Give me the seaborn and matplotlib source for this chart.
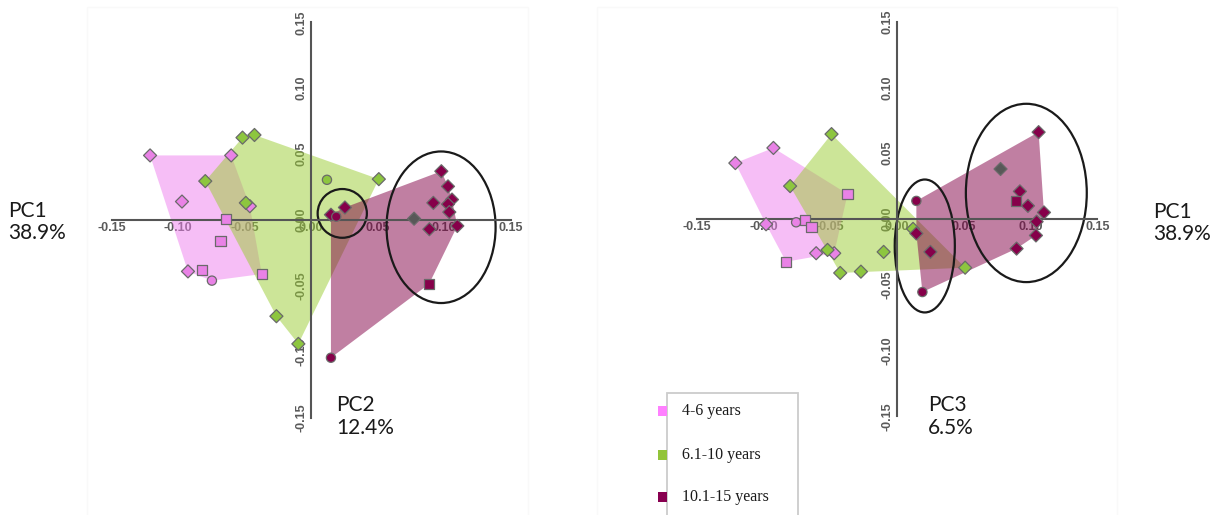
import numpy as np
import pandas as pd
import matplotlib
matplotlib.use("Agg")
import matplotlib.pyplot as plt
from matplotlib.patches import Ellipse, Rectangle
import seaborn as sns

W, H = 1216, 515

# ---- groups and colours ----
groups = ["4-6 years", "6.1-10 years", "10.1-15 years"]
marker_colors = ["#e982e6", "#8dc63f", "#86004a"]
fill_colors = ["#ee7eee", "#9acd32", "#820046"]
legend_colors = ["#ff80ff", "#92c43a", "#880050"]
ref_label = "ref"
ref_color = "#585858"

# ---- PC1 vs PC2 scores ----
pc12_x = [-0.121, -0.060, -0.097, -0.046, -0.064, -0.068, -0.0925, -0.082, -0.0745, -0.037,
          -0.0515, -0.0425, -0.0795, -0.049, 0.012, 0.051, -0.026, -0.0095,
          0.015, 0.019, 0.0255, 0.098, 0.103, 0.092, 0.106, 0.103, 0.104, 0.110, 0.089, 0.0888, 0.015,
          0.0775]
pc12_y = [0.049, 0.049, 0.014, 0.0105, 0.001, -0.016, -0.039, -0.038, -0.046, -0.041,
          0.0625, 0.0645, 0.0295, 0.013, 0.0305, 0.031, -0.073, -0.094,
          0.004, 0.0025, 0.0095, 0.037, 0.0255, 0.013, 0.0155, 0.012, 0.006, -0.0045, -0.007, -0.0485, -0.1045,
          0.001]
pc12_group = [0] * 10 + [1] * 8 + [2] * 13 + [3]
pc12_shape = ["D", "D", "D", "D", "s", "s", "D", "s", "o", "s",
              "D", "D", "D", "D", "o", "D", "D", "D",
              "D", "o", "D", "D", "D", "D", "D", "D", "D", "D", "D", "s", "o",
              "D"]

# ---- PC1 vs PC3 scores ----
pc13_x = [-0.121, -0.0925, -0.037, -0.098, -0.0755, -0.069, -0.064, -0.083, -0.0605, -0.047,
          -0.049, -0.080, -0.052, -0.0425, -0.027, -0.010, 0.012, 0.051,
          0.0145, 0.0145, 0.025, 0.019, 0.106, 0.092, 0.089, 0.098, 0.110, 0.1045, 0.104, 0.0895,
          0.0775]
pc13_y = [0.0425, 0.054, 0.019, -0.004, -0.0025, -0.0005, -0.006, -0.0325, -0.026, -0.026,
          0.0645, 0.025, -0.0235, -0.041, -0.040, -0.025, -0.0075, -0.037,
          0.01375, -0.011, -0.025, -0.0555, 0.066, 0.021, 0.01375, 0.010, 0.005, -0.002, -0.0125, -0.0225,
          0.038]
pc13_group = [0] * 10 + [1] * 8 + [2] * 12 + [3]
pc13_shape = ["D", "D", "s", "D", "o", "s", "s", "s", "D", "D",
              "D", "D", "D", "D", "D", "D", "D", "D",
              "o", "D", "D", "o", "D", "D", "s", "D", "D", "D", "D", "D",
              "D"]

# ---- highlighted clusters: (cx, cy, width, height) ----
pc12_ellipses = [(0.0235, 0.005, 0.037, 0.037), (0.0978, -0.0055, 0.082, 0.115)]
pc13_ellipses = [(0.0208, -0.0205, 0.045, 0.101), (0.0968, 0.0198, 0.0905, 0.1355)]

tick_values = [-0.15, -0.10, -0.05, 0.00, 0.05, 0.10, 0.15]


def convex_hull(points):
    pts = sorted(set(points))
    if len(pts) < 3:
        return pts

    def cross(o, a, b):
        return (a[0] - o[0]) * (b[1] - o[1]) - (a[1] - o[1]) * (b[0] - o[0])

    lower, upper = [], []
    for p in pts:
        while len(lower) >= 2 and cross(lower[-2], lower[-1], p) <= 0:
            lower.pop()
        lower.append(p)
    for p in reversed(pts):
        while len(upper) >= 2 and cross(upper[-2], upper[-1], p) <= 0:
            upper.pop()
        upper.append(p)
    return lower[:-1] + upper[:-1]


sns.set_style("white")
plt.rcParams["axes.unicode_minus"] = False

fig = plt.figure(figsize=(W / 100, H / 100), dpi=100)

# faint panel frames
for x0, x1 in [(87, 528), (597, 1117)]:
    fig.patches.append(Rectangle((x0 / W, -0.1), (x1 - x0) / W, 1.1 - 7 / H,
                                 transform=fig.transFigure, fill=False,
                                 edgecolor="#f9f9f9", lw=1.0))


def make_axes(cx, cy, half_w, half_h, sx, sy):
    ax = fig.add_axes([(cx - half_w) / W, 1 - (cy + half_h) / H, 2 * half_w / W, 2 * half_h / H])
    ax.set_xlim(-half_w / sx, half_w / sx)
    ax.set_ylim(-half_h / sy, half_h / sy)
    ax.patch.set_alpha(0)
    return ax


def draw_panel(ax, xs, ys, gs, shapes, ellipses):
    names = groups + [ref_label]
    df = pd.DataFrame({
        "x": xs, "y": ys,
        "group": [names[g] for g in gs],
        "shape": shapes,
    })
    # group envelopes
    for i, name in enumerate(groups):
        sub = df[df["group"] == name]
        hull = convex_hull(list(zip(sub["x"], sub["y"])))
        hx = [p[0] for p in hull]
        hy = [p[1] for p in hull]
        ax.fill(hx, hy, color=fill_colors[i], alpha=0.5, lw=0, zorder=1)
    for (cx, cy, w, h) in ellipses:
        ax.add_patch(Ellipse((cx, cy), w, h, fill=False, edgecolor="#1a1a1a", lw=1.6, zorder=2))
    palette = dict(zip(names, marker_colors + [ref_color]))
    sns.scatterplot(data=df, x="x", y="y", hue="group", style="shape", size="shape",
                    hue_order=names, palette=palette,
                    markers={"D": "D", "s": "s", "o": "o"},
                    sizes={"D": 44, "s": 55, "o": 44},
                    edgecolor="#6a6a6a", linewidth=0.9, legend=False, ax=ax, zorder=4)

    for side in ["top", "right"]:
        ax.spines[side].set_visible(False)
    for side in ["left", "bottom"]:
        sp = ax.spines[side]
        sp.set_position(("data", 0))
        sp.set_bounds(-0.15, 0.15)
        sp.set_color("#555555")
        sp.set_linewidth(1.5)
        sp.set_zorder(3)
    ax.set_xticks(tick_values)
    ax.set_yticks(tick_values)
    labels = [f"{v:.2f}" for v in tick_values]
    ax.set_xticklabels(labels)
    ax.set_yticklabels(labels)
    ax.tick_params(axis="both", length=0, labelsize=9, labelcolor="#5a5a5a")
    ax.tick_params(axis="x", pad=1.5)
    ax.tick_params(axis="y", pad=2.5, labelrotation=90)
    for lab in ax.get_xticklabels() + ax.get_yticklabels():
        lab.set_fontfamily("Liberation Sans")
        lab.set_fontweight("bold")
    for lab in ax.get_yticklabels():
        lab.set_va("center")
    ax.set_xlabel("")
    ax.set_ylabel("")


ax1 = make_axes(311, 220, 211, 205, 1330, 1318)
draw_panel(ax1, pc12_x, pc12_y, pc12_group, pc12_shape, pc12_ellipses)

ax2 = make_axes(897, 219, 211, 205, 1336, 1316)
draw_panel(ax2, pc13_x, pc13_y, pc13_group, pc13_shape, pc13_ellipses)

# axis annotations
label_font = dict(family="Lato", size=15, color="#1a1a1a", va="center", ha="left")
for (x, y, t) in [(8, 211, "PC1"), (8, 233, "38.9%"),
                  (1153, 212, "PC1"), (1153, 234, "38.9%"),
                  (336, 405, "PC2"), (336, 428, "12.4%"),
                  (928, 405, "PC3"), (928, 428, "6.5%")]:
    fig.text(x / W, 1 - y / H, t, **label_font)

# legend box
fig.patches.append(Rectangle((667 / W, -0.1), (798 - 667) / W, 0.1 + (515 - 393) / H,
                             transform=fig.transFigure, fill=False,
                             edgecolor="#cccccc", lw=1.3))
for i, (name, yc) in enumerate(zip(groups, [411, 455, 497])):
    fig.patches.append(Rectangle((658 / W, 1 - (yc + 5) / H), 9 / W, 10 / H,
                                 transform=fig.transFigure, facecolor=legend_colors[i],
                                 edgecolor="none"))
    fig.text(682 / W, 1 - yc / H, name, family="Liberation Serif", size=11.5,
             color="#1a1a1a", va="center", ha="left")

fig.savefig("out.png", dpi=100)
